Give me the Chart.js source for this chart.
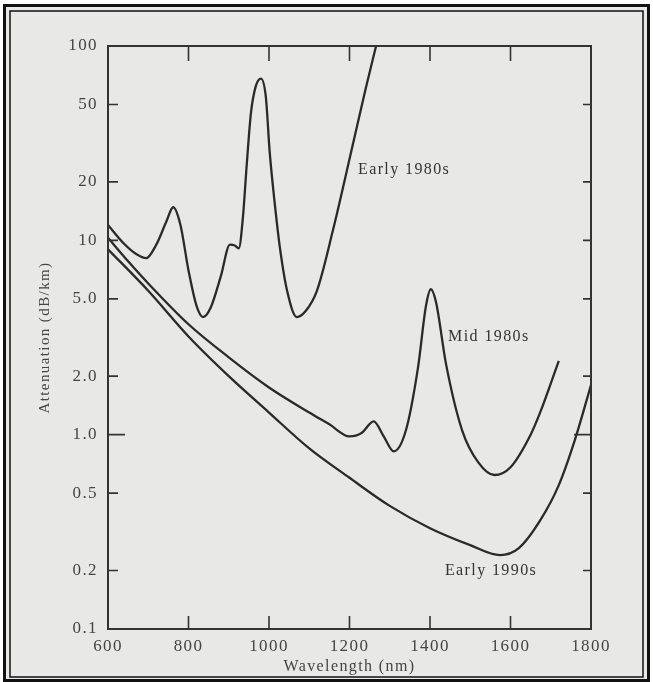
<!DOCTYPE html>
<html>
<head>
<meta charset="utf-8">
<script src="https://cdn.jsdelivr.net/npm/chart.js@4/dist/chart.umd.min.js"></script>
<style>
html,body{margin:0;padding:0;background:#ffffff;}
#wrap{position:relative;width:653px;height:682px;}
canvas{display:block;}
</style>
</head>
<body>
<div id="wrap"><canvas id="c" width="653" height="682"></canvas></div>
<script>
// ---- data ----
const xTickValues = [600, 800, 1000, 1200, 1400, 1600, 1800];
const yTickValues = [0.1, 0.2, 0.5, 1, 2, 5, 10, 20, 50, 100];
const yTickLabels = ["0.1", "0.2", "0.5", "1.0", "2.0", "5.0", "10", "20", "50", "100"];

const seriesNames = ["Early 1980s", "Mid 1980s", "Early 1990s"];

const early1980sWavelength = [600, 640, 670, 695, 720, 745, 762, 780, 800, 820, 836, 855, 880, 903, 915, 925, 935, 945, 955, 967, 980, 992, 1002, 1015, 1027, 1045, 1069, 1090, 1119, 1159, 1209, 1240, 1266];
const early1980sAttenuation = [12, 9.6, 8.5, 8.1, 9.5, 12.5, 14.8, 12, 7, 4.6, 4.03, 4.5, 6.5, 9.5, 9.4, 9.1, 13, 25, 45, 62, 68, 55, 28, 15, 9.2, 5.5, 4.03, 4.3, 5.5, 11.3, 31.6, 60, 100];

const mid1980sWavelength = [600, 650, 700, 800, 900, 1000, 1100, 1150, 1200, 1230, 1260, 1285, 1310, 1340, 1370, 1390, 1402, 1415, 1440, 1480, 1520, 1560, 1600, 1650, 1673, 1720];
const mid1980sAttenuation = [10.3, 7.8, 6.0, 3.7, 2.5, 1.75, 1.3, 1.13, 0.98, 1.02, 1.17, 0.98, 0.82, 1.05, 2.2, 4.6, 5.6, 4.8, 2.3, 1.05, 0.72, 0.62, 0.68, 1.0, 1.29, 2.4];

const early1990sWavelength = [600, 700, 800, 900, 1000, 1100, 1200, 1300, 1400, 1500, 1574, 1620, 1673, 1720, 1760, 1800];
const early1990sAttenuation = [9.0, 5.5, 3.2, 2.0, 1.3, 0.85, 0.6, 0.43, 0.33, 0.27, 0.24, 0.26, 0.36, 0.55, 0.94, 1.8];

// label anchors (data space)
const labelAnchors = [
  {text: "Early 1980s", x: 1221, y: 23},
  {text: "Mid 1980s", x: 1445, y: 3.2},
  {text: "Early 1990s", x: 1437, y: 0.2}
];

function pts(xs, ys){ return xs.map((x,i)=>({x:x, y:ys[i]})); }

const INK = '#2a2a2a';
const BG = '#e8e8e6';
const SERIF = '"Liberation Serif", "DejaVu Serif", serif';

const framePlugin = {
  id: 'frame',
  beforeDraw(chart){
    const ctx = chart.ctx;
    ctx.save();
    ctx.fillStyle = '#ffffff';
    ctx.fillRect(0,0,chart.width,chart.height);
    ctx.fillStyle = BG;
    ctx.fillRect(3,4,647,678);
    ctx.strokeStyle = '#111';
    ctx.lineWidth = 3;
    ctx.strokeRect(4.5,5.5,644,675);
    ctx.lineWidth = 1.5;
    ctx.strokeRect(10,11,633,666);
    ctx.restore();
    if ('letterSpacing' in ctx) ctx.letterSpacing = '1.4px';
  },
  afterDraw(chart){
    const ctx = chart.ctx;
    const a = chart.chartArea;
    const xs = chart.scales.x, ys = chart.scales.y;
    ctx.save();
    ctx.strokeStyle = '#333';
    ctx.lineWidth = 2;
    ctx.strokeRect(a.left, a.top, a.right - a.left, a.bottom - a.top);
    ctx.lineWidth = 1.6;
    ctx.beginPath();
    xTickValues.forEach(v=>{
      if (v===600 || v===1800) return;
      const px = xs.getPixelForValue(v);
      ctx.moveTo(px, a.bottom); ctx.lineTo(px, a.bottom - 13);
      ctx.moveTo(px, a.top); ctx.lineTo(px, a.top + 15);
    });
    yTickValues.forEach(v=>{
      if (v===0.1 || v===100) return;
      const py = ys.getPixelForValue(v);
      const l = (v===1) ? 17 : 10;
      const r = (v===1) ? 17 : 8;
      ctx.moveTo(a.left, py); ctx.lineTo(a.left + l, py);
      ctx.moveTo(a.right, py); ctx.lineTo(a.right - r, py);
    });
    ctx.stroke();
    ctx.fillStyle = '#333';
    ctx.font = '16px ' + SERIF;
    ctx.textBaseline = 'middle';
    ctx.textAlign = 'left';
    if ('letterSpacing' in ctx) ctx.letterSpacing = '1.4px';
    labelAnchors.forEach(l=>{
      ctx.fillText(l.text, xs.getPixelForValue(l.x), ys.getPixelForValue(l.y));
    });
    ctx.restore();
  }
};

const lineStyle = {borderColor: INK, borderWidth: 2.3, pointRadius: 0, fill: false, cubicInterpolationMode: 'monotone'};

new Chart(document.getElementById('c'), {
  type: 'line',
  data: {
    datasets: [
      Object.assign({label: seriesNames[0], data: pts(early1980sWavelength, early1980sAttenuation)}, lineStyle),
      Object.assign({label: seriesNames[1], data: pts(mid1980sWavelength, mid1980sAttenuation)}, lineStyle),
      Object.assign({label: seriesNames[2], data: pts(early1990sWavelength, early1990sAttenuation)}, lineStyle)
    ]
  },
  options: {
    responsive: false,
    animation: false,
    devicePixelRatio: 1,
    layout: {padding: {left: 0, top: 46, right: 62, bottom: 0}},
    plugins: {legend: {display: false}, tooltip: {enabled: false}},
    scales: {
      x: {
        type: 'linear', min: 600, max: 1800,
        grid: {display: false, drawTicks: false},
        border: {display: false},
        afterBuildTicks(s){ s.ticks = xTickValues.map(v=>({value: v})); },
        afterFit(s){ s.height = 53; },
        ticks: {padding: 7, color: '#444', font: {family: SERIF, size: 17}, maxRotation: 0, autoSkip: false,
                callback: v => String(v)},
        title: {display: true, text: 'Wavelength (nm)', color: '#444', font: {family: SERIF, size: 16}, padding: {top: 0, bottom: 6}}
      },
      y: {
        type: 'logarithmic', min: 0.1, max: 100,
        grid: {display: false, drawTicks: false},
        border: {display: false},
        afterBuildTicks(s){ s.ticks = yTickValues.map(v=>({value: v})); },
        afterFit(s){ s.width = 108; },
        ticks: {padding: 10, color: '#444', font: {family: SERIF, size: 17}, autoSkip: false,
                callback: (v) => { const i = yTickValues.indexOf(v); return i >= 0 ? yTickLabels[i] : ''; }},
        title: {display: true, text: 'Attenuation (dB/km)', color: '#444', font: {family: SERIF, size: 15}, padding: {top: 36, bottom: 0}}
      }
    }
  },
  plugins: [framePlugin]
});
</script>
</body>
</html>
